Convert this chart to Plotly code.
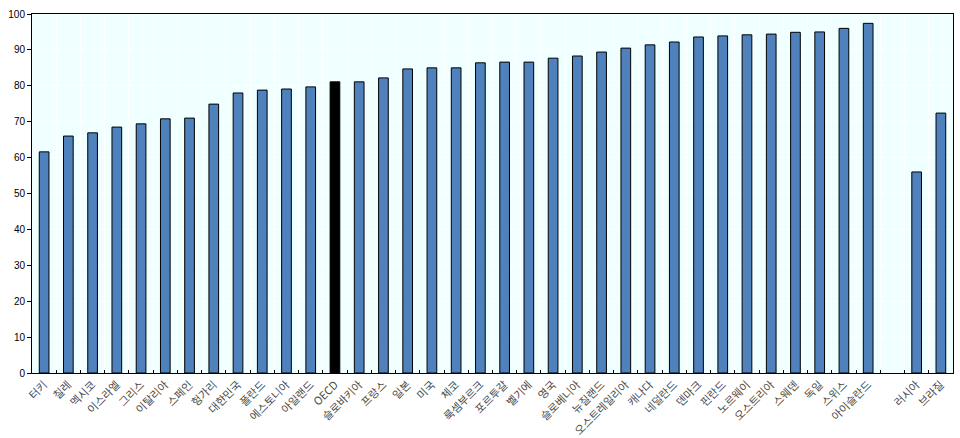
import plotly.graph_objects as go

oecd_countries = ["터키", "칠레", "멕시코", "이스라엘", "그리스", "이탈리아", "스페인", "헝가리",
                  "대한민국", "폴란드", "에스토니아", "아일랜드", "OECD", "슬로바키아", "프랑스",
                  "일본", "미국", "체코", "룩셈부르크", "포르투갈", "벨기에", "영국", "슬로베니아",
                  "뉴질랜드", "오스트레일리아", "캐나다", "네덜란드", "덴마크", "핀란드", "노르웨이",
                  "오스트리아", "스웨덴", "독일", "스위스", "아이슬란드"]
oecd_values = [61.6, 66.0, 66.9, 68.5, 69.4, 70.8, 71.0, 74.9,
               78.0, 78.8, 79.1, 79.7, 81.1, 81.1, 82.2,
               84.7, 85.0, 85.0, 86.4, 86.6, 86.6, 87.7, 88.3,
               89.4, 90.5, 91.4, 92.2, 93.6, 93.9, 94.2,
               94.4, 94.9, 95.0, 96.0, 97.4]
partner_countries = ["러시아", "브라질"]
partner_values = [56.0, 72.4]
y_ticks = list(range(0, 101, 10))

categories = oecd_countries + [""] + partner_countries
values = oecd_values + [None] + partner_values
positions = list(range(len(categories)))

colors = ["#000000" if c == "OECD" else "#4F81BD" for c in categories]

fig = go.Figure()
fig.add_trace(go.Bar(
    x=positions, y=values,
    marker=dict(color=colors, line=dict(color="#000000", width=1)),
    width=0.4,
    hoverinfo="skip",
))

fig.update_layout(
    width=960, height=438,
    margin=dict(l=32, r=7, t=14, b=65),
    paper_bgcolor="#FFFFFF",
    plot_bgcolor="#F0FFFF",
    showlegend=False,
    font=dict(family="Arial, Liberation Sans, sans-serif", size=10, color="#000000"),
    xaxis=dict(
        range=[-0.5, len(categories) - 0.5],
        tickmode="array", tickvals=positions, ticktext=categories,
        tickangle=-45, automargin=False,
        tickfont=dict(family="Noto Sans CJK KR, sans-serif", size=11, color="#4A4A4A"),
        ticks="", showgrid=False,
        showline=True, linecolor="#000000", linewidth=1, mirror=True,
        minor=dict(tickmode="array", tickvals=[p + 0.5 for p in positions[:-1]],
                   ticks="inside", ticklen=3, tickcolor="#000000",
                   showgrid=True, gridcolor="#FFFFFF", gridwidth=1),
        zeroline=False,
    ),
    yaxis=dict(
        range=[0, 100], automargin=False,
        tickmode="array", tickvals=y_ticks,
        ticks="outside", ticklen=4, tickcolor="#000000",
        showgrid=True, gridcolor="#FFFFFF", gridwidth=1,
        showline=True, linecolor="#000000", linewidth=1, mirror=True,
        zeroline=False,
        tickfont=dict(family="Arial, Liberation Sans, sans-serif", size=10, color="#000000"),
    ),
)

fig.write_html("out.html")
